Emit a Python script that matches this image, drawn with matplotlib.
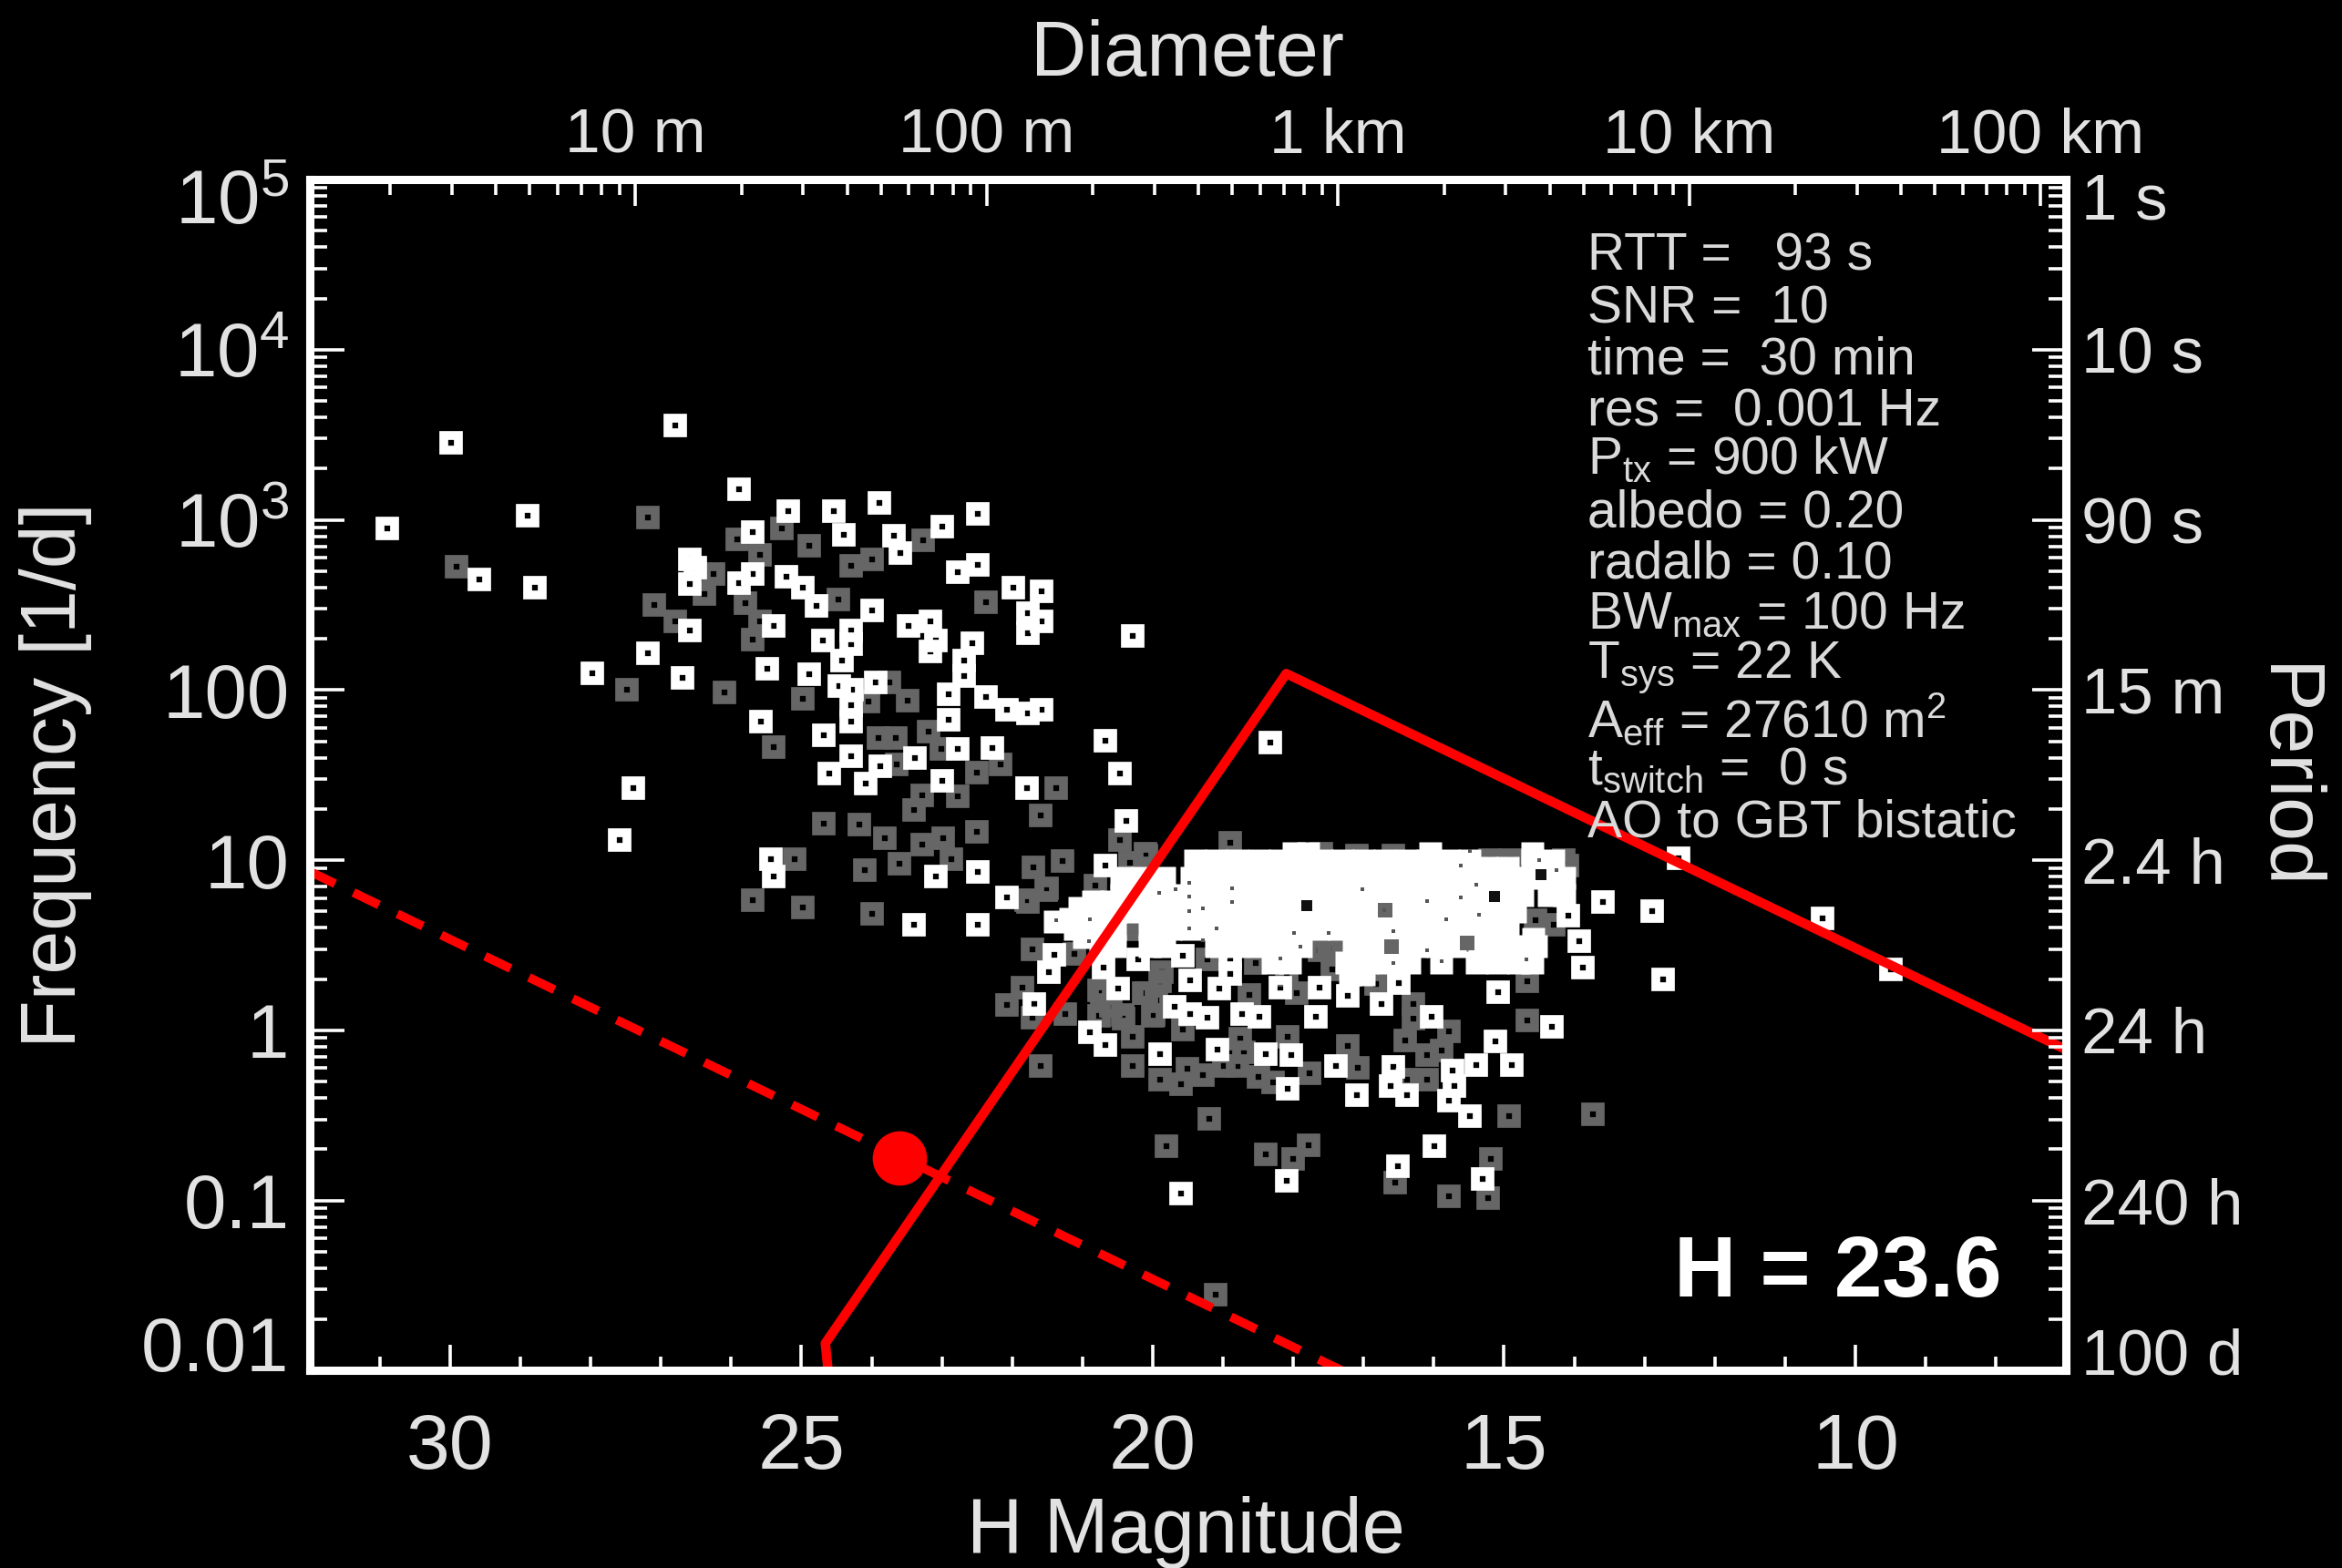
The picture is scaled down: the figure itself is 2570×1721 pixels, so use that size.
#!/usr/bin/env python3
"""H magnitude vs detection frequency plot with radar detectability limits."""

import matplotlib as mpl
import matplotlib.pyplot as plt
import numpy as np
from matplotlib.transforms import ScaledTranslation

# (H magnitude, log10 frequency [1/d])
white_pts = [
    (26.80, 3.555), (29.99, 3.453), (25.89, 3.180), (23.89, 3.098), (25.19, 3.053), (24.54, 3.051),
    (28.90, 3.024), (22.49, 3.035), (30.90, 2.949), (25.69, 2.930), (22.99, 2.959), (24.39, 2.914),
    (23.68, 2.908), (23.59, 2.807), (26.59, 2.770), (26.51, 2.719), (22.49, 2.733), (22.78, 2.692),
    (25.69, 2.684), (25.21, 2.668), (25.89, 2.627), (29.58, 2.651), (28.79, 2.602), (26.59, 2.623),
    (24.98, 2.602), (21.99, 2.602), (21.58, 2.582), (24.78, 2.494), (23.99, 2.469), (21.78, 2.453),
    (21.58, 2.401), (23.48, 2.375), (23.17, 2.401), (25.39, 2.377), (26.59, 2.350), (21.78, 2.336),
    (24.29, 2.350), (23.08, 2.293), (24.70, 2.289), (24.29, 2.268), (22.57, 2.274), (20.28, 2.319),
    (23.17, 2.227), (27.18, 2.217), (24.42, 2.172), (22.69, 2.176), (27.98, 2.098), (24.89, 2.094),
    (25.49, 2.125), (26.69, 2.069), (22.69, 2.084), (23.94, 2.047), (24.46, 2.022), (24.28, 2.002),
    (22.90, 1.975), (22.37, 1.961), (22.08, 1.885), (21.78, 1.865), (21.58, 1.885), (24.29, 1.910),
    (25.58, 1.813), (24.29, 1.817), (22.90, 1.824), (20.68, 1.701), (24.68, 1.735), (22.78, 1.653),
    (22.28, 1.660), (24.29, 1.613), (23.38, 1.602), (20.47, 1.510), (24.60, 1.510), (23.88, 1.551),
    (24.09, 1.449), (22.99, 1.465), (21.79, 1.422), (27.39, 1.422), (27.59, 1.121), (20.38, 1.233),
    (25.43, 1.008), (20.68, 0.967), (25.39, 0.906), (23.08, 0.902), (22.49, 0.930), (22.08, 0.779),
    (23.40, 0.619), (22.49, 0.619), (21.40, 0.442), (21.48, 0.343), (20.70, 0.370), (20.21, 0.415),
    (20.49, 0.245), (21.69, 0.156), (19.57, 0.438), (19.47, 0.293), (18.90, 0.424), (18.90, 0.334),
    (19.05, 0.245), (18.19, 0.249), (19.69, 0.138), (19.47, 0.094), (19.22, 0.076), (18.73, 0.094),
    (18.48, 0.081), (17.68, 0.081), (17.23, 0.201), (17.63, 0.254), (16.50, 0.276), (16.74, 0.156),
    (16.03, 0.081), (15.09, 0.224), (14.32, 0.022), (15.12, -0.063), (14.89, -0.204), (15.40, -0.204),
    (15.73, -0.236), (15.70, -0.326), (15.79, -0.415), (15.48, -0.504), (16.38, -0.379), (16.61, -0.326),
    (16.58, -0.213), (17.09, -0.379), (17.39, -0.210), (18.08, -0.344), (18.03, -0.147), (18.39, -0.138),
    (19.08, -0.112), (19.89, -0.138), (20.68, -0.085), (20.90, -0.010), (15.99, -0.682), (16.51, -0.798),
    (15.30, -0.873), (18.09, -0.882), (19.60, -0.959), (13.59, 0.757), (14.08, 0.673), (13.93, 0.522),
    (13.88, 0.370), (18.32, 1.693), (12.51, 1.009), (12.89, 0.700), (12.74, 0.300), (10.47, 0.658),
    (9.49, 0.360),
]

gray_pts = [
    (27.18, 3.016), (29.91, 2.725), (25.91, 2.883), (25.28, 2.949), (24.89, 2.848), (24.29, 2.729),
    (23.99, 2.770), (23.27, 2.879), (25.59, 2.797), (26.25, 2.684), (26.38, 2.565), (27.09, 2.500),
    (26.80, 2.401), (25.80, 2.510), (24.48, 2.531), (22.37, 2.514), (25.59, 2.401), (25.69, 2.295),
    (27.48, 2.002), (26.09, 1.985), (24.98, 1.951), (23.49, 1.940), (24.05, 1.930), (23.75, 2.043),
    (25.39, 1.664), (23.90, 1.719), (23.66, 1.719), (23.19, 1.756), (23.01, 1.653), (23.64, 1.561),
    (22.50, 1.514), (22.17, 1.561), (23.28, 1.381), (22.78, 1.377), (23.40, 1.295), (21.38, 1.422),
    (21.59, 1.264), (24.68, 1.217), (24.18, 1.209), (23.81, 1.127), (23.28, 1.090), (22.98, 1.131),
    (22.50, 1.168), (22.86, 1.008), (25.10, 1.004), (24.10, 0.943), (23.60, 0.981), (21.70, 0.957),
    (21.28, 0.994), (20.47, 1.121), (25.69, 0.766), (24.98, 0.725), (23.99, 0.686), (21.78, 0.752),
    (21.52, 0.824), (20.10, 1.039), (21.80, 0.763), (21.51, 0.834), (18.90, 1.102), (20.09, 1.030),
    (20.32, 0.986), (20.82, 0.852), (20.29, 0.593), (21.71, 0.477), (21.11, 0.450), (21.86, 0.254),
    (22.07, 0.147), (21.71, 0.076), (21.25, 0.094), (20.73, 0.218), (20.09, 0.218), (19.89, 0.290),
    (19.95, 0.174), (20.76, 0.085), (20.41, 0.067), (20.00, 0.085), (20.29, -0.040), (19.57, 0.004),
    (19.22, 0.415), (18.53, 0.397), (18.63, 0.210), (17.95, 0.219), (17.42, 0.477), (16.82, 0.272),
    (16.29, 0.156), (16.29, 0.067), (15.78, -0.005), (16.41, -0.058), (16.09, -0.147), (15.89, -0.120),
    (16.09, -0.290), (16.38, -0.290), (17.22, -0.094), (17.08, -0.219), (18.76, -0.049), (18.70, -0.129),
    (18.08, -0.040), (18.99, -0.210), (18.79, -0.210), (18.50, -0.272), (17.77, -0.254), (18.29, -0.308),
    (19.28, -0.263), (19.60, -0.317), (19.89, -0.290), (19.51, -0.227), (20.28, -0.210), (21.59, -0.210),
    (14.67, 0.290), (14.67, 0.058), (14.55, 0.647), (14.29, 0.620), (15.54, 0.513), (16.61, 0.486),
    (19.19, -0.522), (14.93, -0.504), (13.74, -0.495), (19.80, -0.682), (18.39, -0.727), (18.00, -0.754),
    (17.78, -0.673), (15.19, -0.754), (16.55, -0.897), (15.79, -0.973), (15.22, -0.986), (19.11, -1.553),
    (20.76, 0.236), (20.13, 0.218), (20.43, 0.093), (20.60, 0.146), (19.98, 0.093), (19.87, 0.343),
    (18.09, 0.325), (17.44, 0.360), (17.49, 0.486), (17.62, 0.470), (20.20, 0.640), (17.10, 1.030),
    (16.58, 1.030), (17.60, 1.040), (15.20, 1.000), (14.90, 1.000), (14.15, 1.000), (14.10, 0.970),
]

# the saturated white cloud, row by row
dense_logf = [1.045, 1.00, 0.96, 0.90, 0.80, 0.76, 0.72, 0.70, 0.66, 0.64, 0.60, 0.55, 0.54, 0.50, 0.40, 0.33]
dense_h = [
    [18.00, 17.80, 16.06, 14.60],
    [19.40, 19.10, 18.80, 18.50, 18.20, 17.90, 17.60, 17.30, 17.00, 16.70, 16.40, 16.10, 15.80, 15.50,
     14.60, 14.30],
    [15.25, 14.95],
    [20.45, 20.15, 19.85, 19.45, 19.15, 18.85, 18.55, 18.25, 17.95, 17.65, 17.35, 17.05, 16.75, 16.45,
     16.15, 15.85, 15.55, 15.25, 14.95, 14.65, 14.35, 14.15],
    [20.45, 20.15, 19.85, 19.55, 19.25, 18.95, 18.65, 18.35, 18.05, 17.75, 17.45, 17.15, 16.85, 16.55,
     16.25, 15.95, 15.65, 15.35, 15.05, 14.75, 14.37, 14.15],
    [20.85, 20.60],
    [21.05],
    [20.83, 20.53, 20.23, 19.93, 19.63, 19.33, 19.03, 18.73, 18.43, 18.13, 17.83, 17.53,
     17.23, 16.93, 16.63, 16.33, 16.03, 15.73, 15.43, 15.13, 14.85],
    [21.18],
    [21.40],
    [21.12, 20.85, 20.55, 20.05, 19.75, 19.45, 19.15, 18.85, 18.55, 18.25, 17.95, 17.65, 17.35,
     17.05, 16.75, 16.45, 16.15, 15.85, 15.55, 15.25, 14.95],
    [20.98],
    [14.59],
    [20.75, 20.55, 20.05, 19.85, 19.10, 18.80, 18.50, 18.20, 17.90, 17.15, 16.85, 16.55, 16.25, 15.95,
     15.70, 15.35, 15.05, 14.75, 14.55],
    [18.30, 18.05, 17.25, 16.95, 16.65, 16.35, 15.90, 15.40, 15.10, 14.80, 14.60],
    [17.20, 17.00],
]

# dark pinholes and gray patches left inside the cloud
cloud_specks = [
    (19.91, 0.807), (19.67, 0.828), (19.48, 0.869), (19.48, 0.789), (19.48, 0.700), (19.48, 0.602),
    (19.28, 0.717), (18.87, 0.834), (18.87, 0.753), (20.91, 0.527), (21.38, 0.646), (20.89, 0.655),
    (17.90, 0.494), (17.99, 0.575), (17.49, 0.575), (18.18, 0.423), (16.71, 0.709), (17.01, 0.828),
    (19.09, 0.602), (19.28, 0.530), (15.61, 0.967), (15.61, 0.780), (14.50, 1.003), (15.48, 1.057),
    (15.39, 0.857), (16.10, 0.762), (16.58, 0.584), (16.09, 0.471), (16.58, 0.396), (14.68, 0.418),
    (15.89, 0.405), (14.26, 0.941), (15.82, 0.655), (15.35, 0.682),
]
cloud_holes = [(17.81, 0.735), (15.13, 0.789), (14.48, 0.914)]
cloud_patches = [(16.69, 0.709), (16.60, 0.494), (15.52, 0.512)]

# detection limits, (H, frequency [1/d])
solid_h = [24.62, 24.66, 18.10, 7.00]
solid_f = [0.010, 0.0145, 125.0, 0.77]
dashed_h = [32.0, 17.0]
dashed_f = [8.6, 0.0087]
this_h = 23.6
this_f = 0.177

freq_ticks = [0.01, 0.1, 1, 10, 100, 1e3, 1e4, 1e5]
freq_labels = ["0.01", "0.1", "1", "10", "100", r"$\mathregular{10^{3}}$", r"$\mathregular{10^{4}}$",
               r"$\mathregular{10^{5}}$"]
period_labels = ["100 d", "240 h", "24 h", "2.4 h", "15 m", "90 s", "10 s", "1 s"]
mag_ticks = [30, 25, 20, 15, 10]
diam_ticks = [27.36, 22.36, 17.36, 12.36, 7.36]
diam_labels = ["10 m", "100 m", "1 km", "10 km", "100 km"]

info_lines = [
    "RTT =   93 s",
    "SNR =  10",
    "time =  30 min",
    "res =  0.001 Hz",
    r"P$_{\mathrm{tx}}$ = 900 kW",
    "albedo = 0.20",
    "radalb = 0.10",
    r"BW$_{\mathrm{max}}$ = 100 Hz",
    r"T$_{\mathrm{sys}}$ = 22 K",
    r"A$_{\mathrm{eff}}$ = 27610 m$^{2}$",
    r"t$_{\mathrm{switch}}$ =  0 s",
    "AO to GBT bistatic",
]
info_y = [172, 207, 241, 276, 308, 344, 378, 412, 447, 482, 516, 551]

C_TEXT = "#e2e2e2"
C_GRAY = "#666666"
C_RED = "#ff0000"

mpl.rcParams["font.family"] = ["Liberation Sans", "DejaVu Sans"]
mpl.rcParams["mathtext.fontset"] = "custom"
mpl.rcParams["mathtext.rm"] = "Liberation Sans"
mpl.rcParams["mathtext.default"] = "regular"


def _style_ticks(ax, which_axis, major, minor, width=2.6):
    ax.tick_params(axis=which_axis, which="major", direction="in", length=major, width=width,
                   color="white")
    ax.tick_params(axis=which_axis, which="minor", direction="in", length=minor, width=width,
                   color="white")


def _shift_ends(labels, fig, first, last):
    """Nudge end labels inward, the plot keeps them inside the frame."""
    labels[0].set_transform(labels[0].get_transform() + ScaledTranslation(0, first / 72, fig.dpi_scale_trans))
    labels[-1].set_transform(labels[-1].get_transform() + ScaledTranslation(0, last / 72, fig.dpi_scale_trans))


def _scatter(ax, pts, color, ms, mew=0.0, filled=False, z=2):
    xs, ys = zip(*pts)
    ax.plot(xs, 10 ** np.array(ys), ls="none", marker="s", ms=ms, mew=mew,
            mfc=color if filled else "none", mec=color if not filled else "none", zorder=z)


fig = plt.figure(figsize=(25.70, 17.21), dpi=100, facecolor="black")
ax = fig.add_axes([0.1322, 0.1258, 0.7500, 0.7597], facecolor="black")

ax.set_yscale("log")
ax.set_xlim(32, 7)
ax.set_ylim(0.01, 1e5)

# gray first, white over it
_scatter(ax, gray_pts, C_GRAY, 11, mew=7, z=2)
_scatter(ax, white_pts, "white", 11, mew=7, z=3)
for level, row in zip(dense_logf, dense_h):
    ax.plot(row, [10 ** level] * len(row), ls="none", marker="s", ms=18, mfc="white", mec="none", zorder=4)
_scatter(ax, cloud_patches, C_GRAY, 12, filled=True, z=4.2)
_scatter(ax, cloud_specks, "#555555", 3.5, filled=True, z=4.3)
_scatter(ax, cloud_holes, "#111111", 8, filled=True, z=4.3)

ax.plot(solid_h, solid_f, color=C_RED, lw=7.5, solid_joinstyle="round", zorder=5)
ax.plot(dashed_h, dashed_f, color=C_RED, lw=7, ls=(0, (3.2, 2.3)), dash_capstyle="butt", zorder=5)
ax.plot([this_h], [this_f], ls="none", marker="o", ms=43, mfc=C_RED, mec="none", zorder=6)

# left and bottom axes
ax.set_yticks(freq_ticks)
ax.set_yticklabels(freq_labels, fontsize=60, color=C_TEXT)
ax.set_yticks([m * 10.0 ** e for e in range(-2, 5) for m in range(2, 10)], minor=True)
ax.set_yticklabels([], minor=True)
ax.set_xticks(mag_ticks)
ax.set_xticklabels([str(v) for v in mag_ticks], fontsize=62, color=C_TEXT)
ax.set_xticks([v for v in range(8, 32) if v % 5 != 0], minor=True)
_style_ticks(ax, "y", 27, 14)
_style_ticks(ax, "x", 20, 11)
ax.tick_params(axis="y", pad=16)
ax.tick_params(axis="x", pad=33)
_shift_ends(ax.get_yticklabels(), fig, 21.5, -13.5)

# right axis: the same frequencies as periods
ax_r = ax.twinx()
ax_r.set_yscale("log")
ax_r.set_ylim(ax.get_ylim())
ax_r.set_yticks(freq_ticks)
ax_r.set_yticklabels(period_labels, fontsize=51, color=C_TEXT)
ax_r.set_yticks([m * 10.0 ** e for e in range(-2, 5) for m in range(2, 10)], minor=True)
ax_r.set_yticklabels([], minor=True)
_style_ticks(ax_r, "y", 27, 14)
ax_r.tick_params(axis="y", pad=12)
_shift_ends(ax_r.get_yticklabels(), fig, 15.5, -13)

# top axis: diameter at albedo 0.2
ax_t = ax.twiny()
ax_t.set_xlim(ax.get_xlim())
ax_t.set_xticks(diam_ticks)
ax_t.set_xticklabels(diam_labels, fontsize=50, color=C_TEXT)
ax_t.set_xticks([h + 5 * np.log10(10 / m) for h in diam_ticks for m in range(2, 10)], minor=True)
ax_t.set_xticklabels([], minor=True)
_style_ticks(ax_t, "x", 21, 12)
ax_t.tick_params(axis="x", pad=11)

for a in (ax, ax_r, ax_t):
    for spine in a.spines.values():
        spine.set_color("white")
        spine.set_linewidth(6.5)

fig.text(795 / 1568, 1 - 37 / 1050, "Diameter", ha="center", va="center", fontsize=61, color=C_TEXT)
fig.text(794 / 1568, 1 - 1026 / 1050, "H Magnitude", ha="center", va="center", fontsize=61, color=C_TEXT)
fig.text(37 / 1568, 1 - 519 / 1050, "Frequency [1/d]", ha="center", va="center", rotation=90, fontsize=62,
         color=C_TEXT)
fig.text(1529 / 1568, 1 - 521 / 1050, "Period", ha="center", va="center", rotation=270, fontsize=62,
         color=C_TEXT)

for line, y in zip(info_lines, info_y):
    fig.text(1063 / 1568, 1 - y / 1050, line, ha="left", va="center", fontsize=41, color="#dadada", zorder=10)

fig.text(1340 / 1568, 1 - 853 / 1050, "H = 23.6", ha="right", va="center", fontsize=68, fontweight="bold",
         color="white", zorder=10)

fig.savefig("out.png", dpi=100, facecolor="black")
